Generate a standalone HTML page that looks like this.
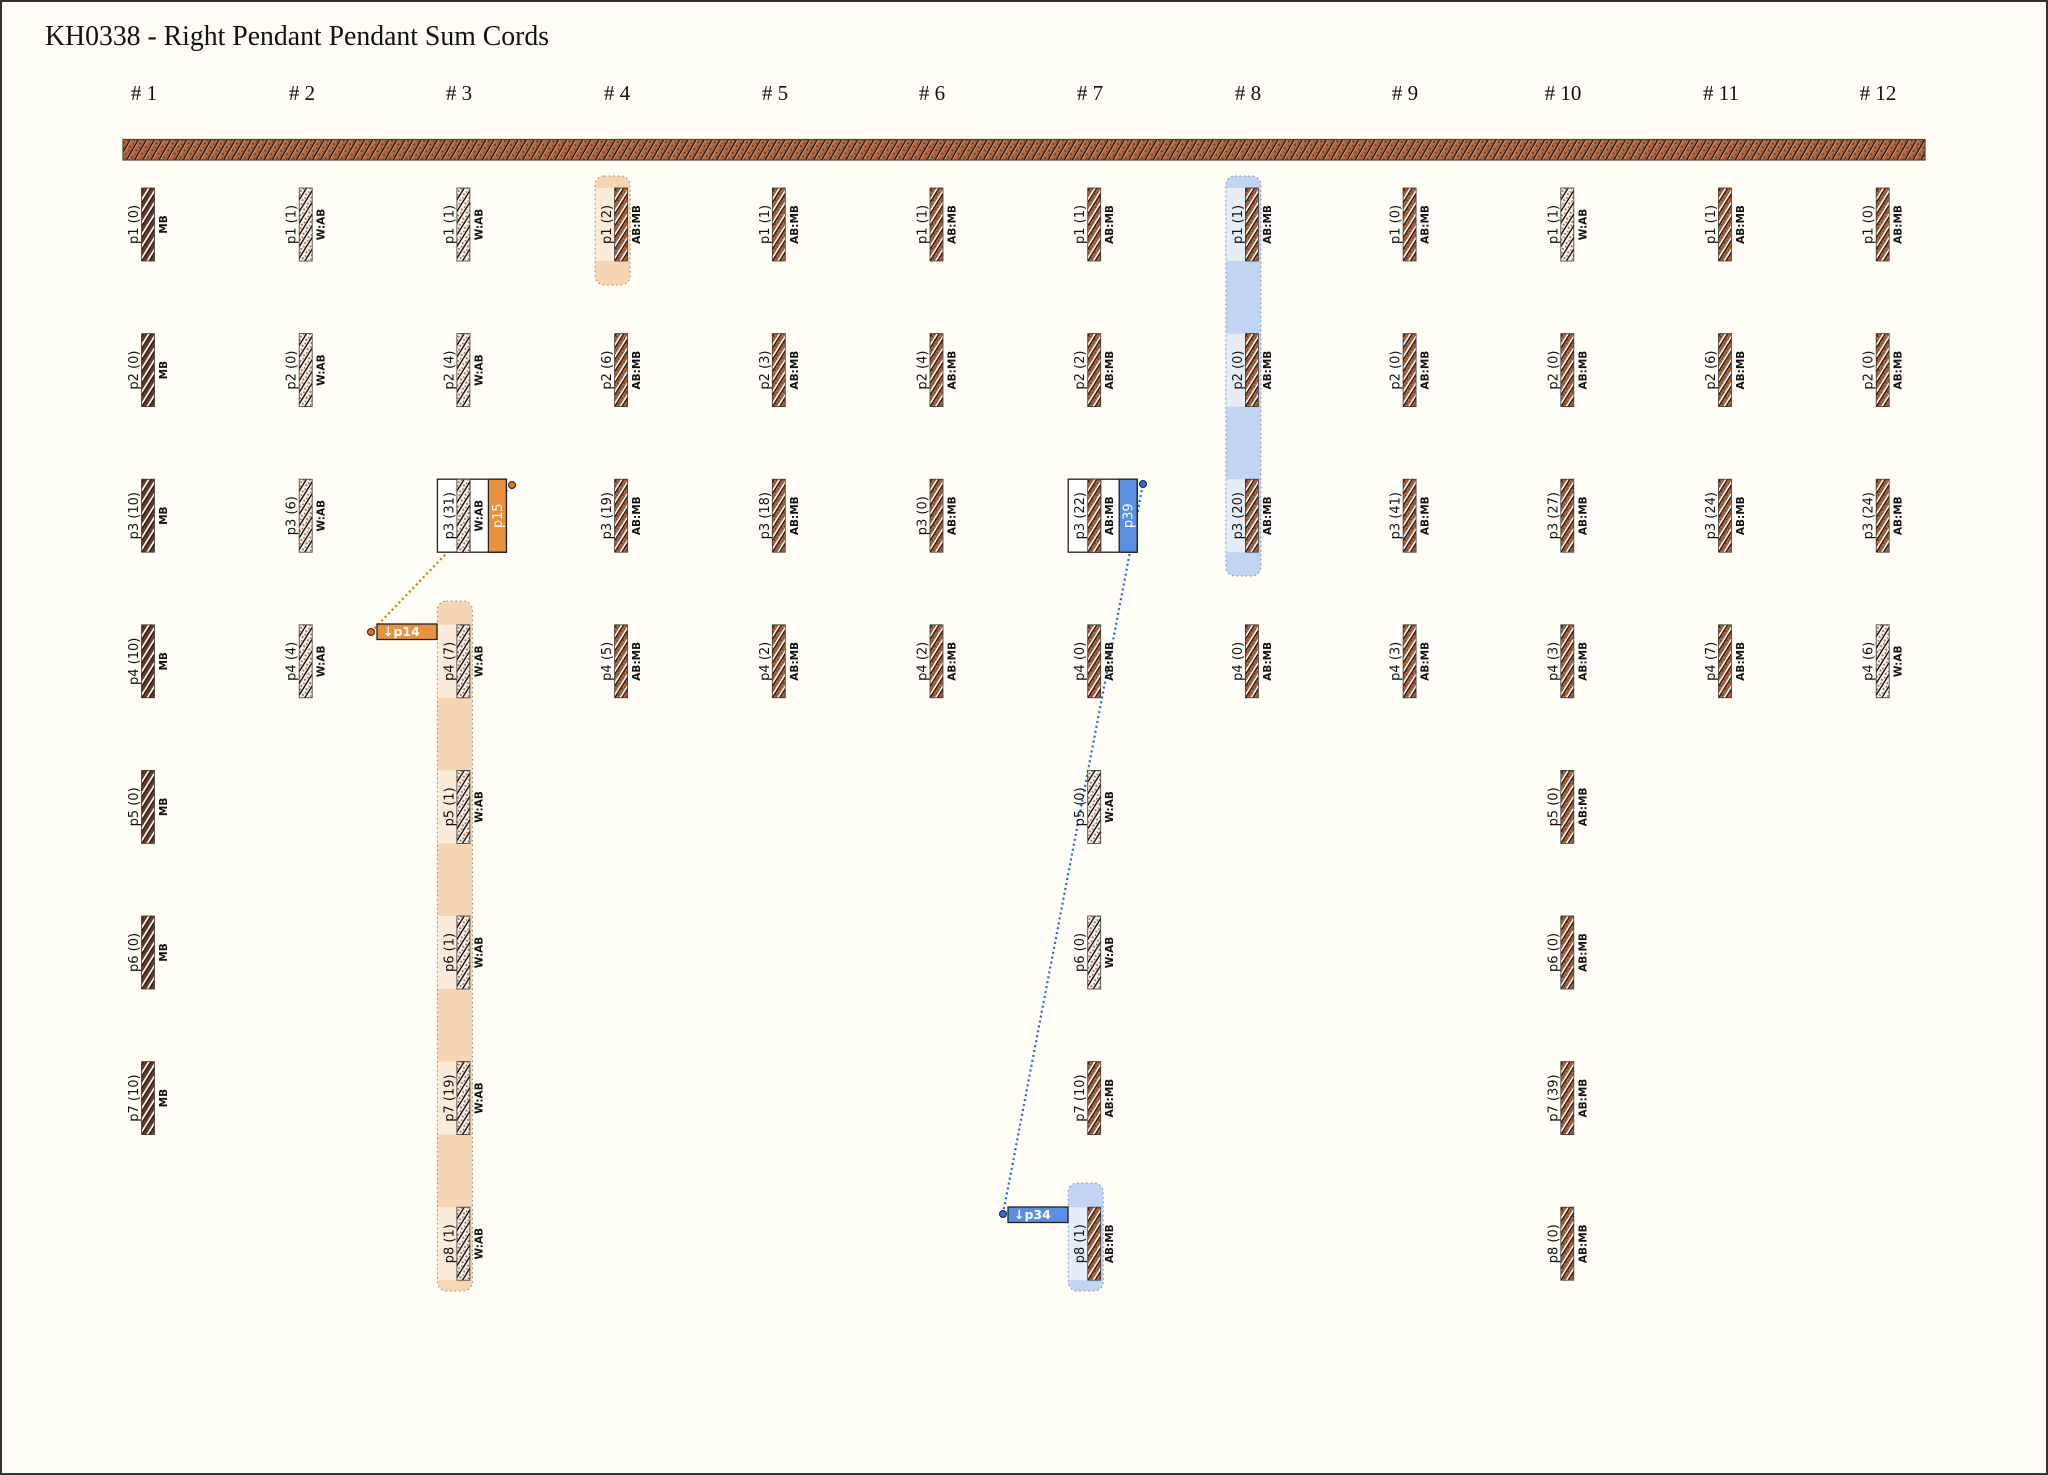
<!DOCTYPE html>
<html><head><meta charset="utf-8"><style>
html,body{margin:0;padding:0;background:#fffdf5}
svg{display:block}
.l{font-family:"DejaVu Sans","Liberation Sans",sans-serif;font-size:13px;fill:#111;text-anchor:middle}
.t{font-family:"DejaVu Sans","Liberation Sans",sans-serif;font-size:10.5px;font-weight:bold;fill:#111;text-anchor:middle}
.h{font-family:"Liberation Serif",serif;font-size:21px;fill:#111;text-anchor:middle}
.c{stroke:#3a3a3a;stroke-width:0.8}
</style></head><body>
<svg width="2048" height="1475" viewBox="0 0 2048 1475" xmlns="http://www.w3.org/2000/svg">
<defs>
<pattern id="mb" patternUnits="userSpaceOnUse" width="6" height="6.2" patternTransform="rotate(-58)">
<rect width="6" height="6.2" fill="#6c3720"/><rect y="0" width="6" height="1.8" fill="#fff"/><rect y="1.8" width="6" height="1.1" fill="#111"/></pattern>
<pattern id="ab" patternUnits="userSpaceOnUse" width="7" height="6.2" patternTransform="rotate(-58)">
<rect width="7" height="6.2" fill="#b4673c"/><circle cx="2" cy="4" r="0.9" fill="#7a3a1e"/><circle cx="5.2" cy="5" r="0.7" fill="#6a3219"/><rect y="0" width="7" height="1.6" fill="#fff"/><rect y="1.6" width="7" height="1.2" fill="#111"/></pattern>
<pattern id="wa" patternUnits="userSpaceOnUse" width="7" height="6.2" patternTransform="rotate(-58)">
<rect width="7" height="6.2" fill="#f6f4f1"/><circle cx="2" cy="3.8" r="1.1" fill="#c0683a"/><circle cx="5.3" cy="4.8" r="0.9" fill="#b25c30"/><rect y="0" width="7" height="1.4" fill="#111"/></pattern>
<pattern id="bar" patternUnits="userSpaceOnUse" width="8" height="7" patternTransform="rotate(-60)">
<rect width="8" height="7" fill="#b4673c"/><circle cx="2" cy="4" r="1" fill="#6e3418"/><circle cx="6" cy="5.5" r="0.8" fill="#6e3418"/><rect y="0" width="8" height="1.4" fill="#111"/><rect y="1.4" width="8" height="0.6" fill="#e8c8a8"/></pattern>
</defs>
<rect x="1" y="1" width="2046" height="1473" fill="#fffdf5" stroke="#333" stroke-width="2"/>
<text x="45" y="45" font-family="Liberation Serif,serif" font-size="28" fill="#111" textLength="504" lengthAdjust="spacingAndGlyphs">KH0338 - Right Pendant Pendant Sum Cords</text>
<text class="h" x="144" y="100"># 1</text><text class="h" x="302" y="100"># 2</text><text class="h" x="459" y="100"># 3</text><text class="h" x="617" y="100"># 4</text><text class="h" x="775" y="100"># 5</text><text class="h" x="932" y="100"># 6</text><text class="h" x="1090" y="100"># 7</text><text class="h" x="1248" y="100"># 8</text><text class="h" x="1405" y="100"># 9</text><text class="h" x="1563" y="100"># 10</text><text class="h" x="1721" y="100"># 11</text><text class="h" x="1878" y="100"># 12</text>
<rect x="123" y="139.5" width="1802" height="20.5" fill="url(#bar)" stroke="#444" stroke-width="1.2"/>

<rect x="595.1" y="176" width="35" height="109" rx="9" fill="#f6d6b2" stroke="#888" stroke-width="1" stroke-dasharray="1.5,3"/>
<rect x="595.6" y="188" width="19" height="73" fill="#fcebd8"/>
<rect x="437.4" y="601" width="35" height="690" rx="9" fill="#f6d6b2" stroke="#888" stroke-width="1" stroke-dasharray="1.5,3"/>
<rect x="437.9" y="624.8" width="19" height="73" fill="#fcebd8"/><rect x="437.9" y="770.4" width="19" height="73" fill="#fcebd8"/><rect x="437.9" y="916" width="19" height="73" fill="#fcebd8"/><rect x="437.9" y="1061.6" width="19" height="73" fill="#fcebd8"/><rect x="437.9" y="1207.2" width="19" height="73" fill="#fcebd8"/>
<rect x="1225.9" y="176" width="35" height="400" rx="9" fill="#c1d5f2" stroke="#888" stroke-width="1" stroke-dasharray="1.5,3"/>
<rect x="1226.4" y="188" width="19" height="73" fill="#e3ecf7"/><rect x="1226.4" y="333.6" width="19" height="73" fill="#e3ecf7"/><rect x="1226.4" y="479.2" width="19" height="73" fill="#e3ecf7"/>
<rect x="1068.2" y="1183" width="35" height="108" rx="9" fill="#c1d5f2" stroke="#888" stroke-width="1" stroke-dasharray="1.5,3"/>
<rect x="1068.7" y="1207.2" width="19" height="73" fill="#e3ecf7"/>

<line x1="371" y1="632" x2="512" y2="485" stroke="#e07010" stroke-width="2.2" stroke-dasharray="2,3"/>
<line x1="1003" y1="1214" x2="1143" y2="484" stroke="#1a66ee" stroke-width="2.2" stroke-dasharray="2,3"/>

<rect x="437.4" y="479.2" width="69" height="73" fill="#fff" fill-opacity="0.88" stroke="#222" stroke-width="1.3"/>
<rect x="488.4" y="479.2" width="18" height="73" fill="#e8913e" stroke="#222" stroke-width="1.3"/>
<line x1="469.9" y1="479.2" x2="469.9" y2="552.2" stroke="#222" stroke-width="1.2"/>
<text class="l" style="fill:#fff" transform="translate(501.9,515.7) rotate(-90)">p15</text>
<circle cx="512" cy="485" r="3.5" fill="#e07010" stroke="#222" stroke-width="1"/>
<rect x="1068.2" y="479.2" width="69" height="73" fill="#fff" fill-opacity="0.88" stroke="#222" stroke-width="1.3"/>
<rect x="1119.2" y="479.2" width="18" height="73" fill="#5a8fe3" stroke="#222" stroke-width="1.3"/>
<line x1="1100.7" y1="479.2" x2="1100.7" y2="552.2" stroke="#222" stroke-width="1.2"/>
<text class="l" style="fill:#fff" transform="translate(1132.7,515.7) rotate(-90)">p39</text>
<circle cx="1143" cy="484" r="3.5" fill="#2a6de0" stroke="#222" stroke-width="1"/>
<rect x="377" y="624" width="60" height="15.5" fill="#e8913e" stroke="#222" stroke-width="1.3"/>
<text x="383" y="636" font-family="DejaVu Sans,sans-serif" font-size="12.5" font-weight="bold" fill="#fff">↓p14</text>
<circle cx="371" cy="632" r="3.5" fill="#e07010" stroke="#222" stroke-width="1"/>
<rect x="1008" y="1207" width="60" height="15.5" fill="#5a8fe3" stroke="#222" stroke-width="1.3"/>
<text x="1014" y="1219" font-family="DejaVu Sans,sans-serif" font-size="12.5" font-weight="bold" fill="#fff">↓p34</text>
<circle cx="1003" cy="1214" r="3.5" fill="#2a6de0" stroke="#222" stroke-width="1"/>

<g transform="translate(148,188)"><rect class="c" x="-6.5" width="13" height="73" fill="url(#mb)"/><text class="l" transform="translate(-10,36.5) rotate(-90)">p1 (0)</text><text class="t" transform="translate(19,36.5) rotate(-90)">MB</text></g>
<g transform="translate(148,333.6)"><rect class="c" x="-6.5" width="13" height="73" fill="url(#mb)"/><text class="l" transform="translate(-10,36.5) rotate(-90)">p2 (0)</text><text class="t" transform="translate(19,36.5) rotate(-90)">MB</text></g>
<g transform="translate(148,479.2)"><rect class="c" x="-6.5" width="13" height="73" fill="url(#mb)"/><text class="l" transform="translate(-10,36.5) rotate(-90)">p3 (10)</text><text class="t" transform="translate(19,36.5) rotate(-90)">MB</text></g>
<g transform="translate(148,624.8)"><rect class="c" x="-6.5" width="13" height="73" fill="url(#mb)"/><text class="l" transform="translate(-10,36.5) rotate(-90)">p4 (10)</text><text class="t" transform="translate(19,36.5) rotate(-90)">MB</text></g>
<g transform="translate(148,770.4)"><rect class="c" x="-6.5" width="13" height="73" fill="url(#mb)"/><text class="l" transform="translate(-10,36.5) rotate(-90)">p5 (0)</text><text class="t" transform="translate(19,36.5) rotate(-90)">MB</text></g>
<g transform="translate(148,916)"><rect class="c" x="-6.5" width="13" height="73" fill="url(#mb)"/><text class="l" transform="translate(-10,36.5) rotate(-90)">p6 (0)</text><text class="t" transform="translate(19,36.5) rotate(-90)">MB</text></g>
<g transform="translate(148,1061.6)"><rect class="c" x="-6.5" width="13" height="73" fill="url(#mb)"/><text class="l" transform="translate(-10,36.5) rotate(-90)">p7 (10)</text><text class="t" transform="translate(19,36.5) rotate(-90)">MB</text></g>
<g transform="translate(305.7,188)"><rect class="c" x="-6.5" width="13" height="73" fill="url(#wa)"/><text class="l" transform="translate(-10,36.5) rotate(-90)">p1 (1)</text><text class="t" transform="translate(19,36.5) rotate(-90)">W:AB</text></g>
<g transform="translate(305.7,333.6)"><rect class="c" x="-6.5" width="13" height="73" fill="url(#wa)"/><text class="l" transform="translate(-10,36.5) rotate(-90)">p2 (0)</text><text class="t" transform="translate(19,36.5) rotate(-90)">W:AB</text></g>
<g transform="translate(305.7,479.2)"><rect class="c" x="-6.5" width="13" height="73" fill="url(#wa)"/><text class="l" transform="translate(-10,36.5) rotate(-90)">p3 (6)</text><text class="t" transform="translate(19,36.5) rotate(-90)">W:AB</text></g>
<g transform="translate(305.7,624.8)"><rect class="c" x="-6.5" width="13" height="73" fill="url(#wa)"/><text class="l" transform="translate(-10,36.5) rotate(-90)">p4 (4)</text><text class="t" transform="translate(19,36.5) rotate(-90)">W:AB</text></g>
<g transform="translate(463.4,188)"><rect class="c" x="-6.5" width="13" height="73" fill="url(#wa)"/><text class="l" transform="translate(-10,36.5) rotate(-90)">p1 (1)</text><text class="t" transform="translate(19,36.5) rotate(-90)">W:AB</text></g>
<g transform="translate(463.4,333.6)"><rect class="c" x="-6.5" width="13" height="73" fill="url(#wa)"/><text class="l" transform="translate(-10,36.5) rotate(-90)">p2 (4)</text><text class="t" transform="translate(19,36.5) rotate(-90)">W:AB</text></g>
<g transform="translate(463.4,479.2)"><rect class="c" x="-6.5" width="13" height="73" fill="url(#wa)"/><text class="l" transform="translate(-10,36.5) rotate(-90)">p3 (31)</text><text class="t" transform="translate(19,36.5) rotate(-90)">W:AB</text></g>
<g transform="translate(463.4,624.8)"><rect class="c" x="-6.5" width="13" height="73" fill="url(#wa)"/><text class="l" transform="translate(-10,36.5) rotate(-90)">p4 (7)</text><text class="t" transform="translate(19,36.5) rotate(-90)">W:AB</text></g>
<g transform="translate(463.4,770.4)"><rect class="c" x="-6.5" width="13" height="73" fill="url(#wa)"/><text class="l" transform="translate(-10,36.5) rotate(-90)">p5 (1)</text><text class="t" transform="translate(19,36.5) rotate(-90)">W:AB</text></g>
<g transform="translate(463.4,916)"><rect class="c" x="-6.5" width="13" height="73" fill="url(#wa)"/><text class="l" transform="translate(-10,36.5) rotate(-90)">p6 (1)</text><text class="t" transform="translate(19,36.5) rotate(-90)">W:AB</text></g>
<g transform="translate(463.4,1061.6)"><rect class="c" x="-6.5" width="13" height="73" fill="url(#wa)"/><text class="l" transform="translate(-10,36.5) rotate(-90)">p7 (19)</text><text class="t" transform="translate(19,36.5) rotate(-90)">W:AB</text></g>
<g transform="translate(463.4,1207.2)"><rect class="c" x="-6.5" width="13" height="73" fill="url(#wa)"/><text class="l" transform="translate(-10,36.5) rotate(-90)">p8 (1)</text><text class="t" transform="translate(19,36.5) rotate(-90)">W:AB</text></g>
<g transform="translate(621.1,188)"><rect class="c" x="-6.5" width="13" height="73" fill="url(#ab)"/><text class="l" transform="translate(-10,36.5) rotate(-90)">p1 (2)</text><text class="t" transform="translate(19,36.5) rotate(-90)">AB:MB</text></g>
<g transform="translate(621.1,333.6)"><rect class="c" x="-6.5" width="13" height="73" fill="url(#ab)"/><text class="l" transform="translate(-10,36.5) rotate(-90)">p2 (6)</text><text class="t" transform="translate(19,36.5) rotate(-90)">AB:MB</text></g>
<g transform="translate(621.1,479.2)"><rect class="c" x="-6.5" width="13" height="73" fill="url(#ab)"/><text class="l" transform="translate(-10,36.5) rotate(-90)">p3 (19)</text><text class="t" transform="translate(19,36.5) rotate(-90)">AB:MB</text></g>
<g transform="translate(621.1,624.8)"><rect class="c" x="-6.5" width="13" height="73" fill="url(#ab)"/><text class="l" transform="translate(-10,36.5) rotate(-90)">p4 (5)</text><text class="t" transform="translate(19,36.5) rotate(-90)">AB:MB</text></g>
<g transform="translate(778.8,188)"><rect class="c" x="-6.5" width="13" height="73" fill="url(#ab)"/><text class="l" transform="translate(-10,36.5) rotate(-90)">p1 (1)</text><text class="t" transform="translate(19,36.5) rotate(-90)">AB:MB</text></g>
<g transform="translate(778.8,333.6)"><rect class="c" x="-6.5" width="13" height="73" fill="url(#ab)"/><text class="l" transform="translate(-10,36.5) rotate(-90)">p2 (3)</text><text class="t" transform="translate(19,36.5) rotate(-90)">AB:MB</text></g>
<g transform="translate(778.8,479.2)"><rect class="c" x="-6.5" width="13" height="73" fill="url(#ab)"/><text class="l" transform="translate(-10,36.5) rotate(-90)">p3 (18)</text><text class="t" transform="translate(19,36.5) rotate(-90)">AB:MB</text></g>
<g transform="translate(778.8,624.8)"><rect class="c" x="-6.5" width="13" height="73" fill="url(#ab)"/><text class="l" transform="translate(-10,36.5) rotate(-90)">p4 (2)</text><text class="t" transform="translate(19,36.5) rotate(-90)">AB:MB</text></g>
<g transform="translate(936.5,188)"><rect class="c" x="-6.5" width="13" height="73" fill="url(#ab)"/><text class="l" transform="translate(-10,36.5) rotate(-90)">p1 (1)</text><text class="t" transform="translate(19,36.5) rotate(-90)">AB:MB</text></g>
<g transform="translate(936.5,333.6)"><rect class="c" x="-6.5" width="13" height="73" fill="url(#ab)"/><text class="l" transform="translate(-10,36.5) rotate(-90)">p2 (4)</text><text class="t" transform="translate(19,36.5) rotate(-90)">AB:MB</text></g>
<g transform="translate(936.5,479.2)"><rect class="c" x="-6.5" width="13" height="73" fill="url(#ab)"/><text class="l" transform="translate(-10,36.5) rotate(-90)">p3 (0)</text><text class="t" transform="translate(19,36.5) rotate(-90)">AB:MB</text></g>
<g transform="translate(936.5,624.8)"><rect class="c" x="-6.5" width="13" height="73" fill="url(#ab)"/><text class="l" transform="translate(-10,36.5) rotate(-90)">p4 (2)</text><text class="t" transform="translate(19,36.5) rotate(-90)">AB:MB</text></g>
<g transform="translate(1094.2,188)"><rect class="c" x="-6.5" width="13" height="73" fill="url(#ab)"/><text class="l" transform="translate(-10,36.5) rotate(-90)">p1 (1)</text><text class="t" transform="translate(19,36.5) rotate(-90)">AB:MB</text></g>
<g transform="translate(1094.2,333.6)"><rect class="c" x="-6.5" width="13" height="73" fill="url(#ab)"/><text class="l" transform="translate(-10,36.5) rotate(-90)">p2 (2)</text><text class="t" transform="translate(19,36.5) rotate(-90)">AB:MB</text></g>
<g transform="translate(1094.2,479.2)"><rect class="c" x="-6.5" width="13" height="73" fill="url(#ab)"/><text class="l" transform="translate(-10,36.5) rotate(-90)">p3 (22)</text><text class="t" transform="translate(19,36.5) rotate(-90)">AB:MB</text></g>
<g transform="translate(1094.2,624.8)"><rect class="c" x="-6.5" width="13" height="73" fill="url(#ab)"/><text class="l" transform="translate(-10,36.5) rotate(-90)">p4 (0)</text><text class="t" transform="translate(19,36.5) rotate(-90)">AB:MB</text></g>
<g transform="translate(1094.2,770.4)"><rect class="c" x="-6.5" width="13" height="73" fill="url(#wa)"/><text class="l" transform="translate(-10,36.5) rotate(-90)">p5 (0)</text><text class="t" transform="translate(19,36.5) rotate(-90)">W:AB</text></g>
<g transform="translate(1094.2,916)"><rect class="c" x="-6.5" width="13" height="73" fill="url(#wa)"/><text class="l" transform="translate(-10,36.5) rotate(-90)">p6 (0)</text><text class="t" transform="translate(19,36.5) rotate(-90)">W:AB</text></g>
<g transform="translate(1094.2,1061.6)"><rect class="c" x="-6.5" width="13" height="73" fill="url(#ab)"/><text class="l" transform="translate(-10,36.5) rotate(-90)">p7 (10)</text><text class="t" transform="translate(19,36.5) rotate(-90)">AB:MB</text></g>
<g transform="translate(1094.2,1207.2)"><rect class="c" x="-6.5" width="13" height="73" fill="url(#ab)"/><text class="l" transform="translate(-10,36.5) rotate(-90)">p8 (1)</text><text class="t" transform="translate(19,36.5) rotate(-90)">AB:MB</text></g>
<g transform="translate(1251.9,188)"><rect class="c" x="-6.5" width="13" height="73" fill="url(#ab)"/><text class="l" transform="translate(-10,36.5) rotate(-90)">p1 (1)</text><text class="t" transform="translate(19,36.5) rotate(-90)">AB:MB</text></g>
<g transform="translate(1251.9,333.6)"><rect class="c" x="-6.5" width="13" height="73" fill="url(#ab)"/><text class="l" transform="translate(-10,36.5) rotate(-90)">p2 (0)</text><text class="t" transform="translate(19,36.5) rotate(-90)">AB:MB</text></g>
<g transform="translate(1251.9,479.2)"><rect class="c" x="-6.5" width="13" height="73" fill="url(#ab)"/><text class="l" transform="translate(-10,36.5) rotate(-90)">p3 (20)</text><text class="t" transform="translate(19,36.5) rotate(-90)">AB:MB</text></g>
<g transform="translate(1251.9,624.8)"><rect class="c" x="-6.5" width="13" height="73" fill="url(#ab)"/><text class="l" transform="translate(-10,36.5) rotate(-90)">p4 (0)</text><text class="t" transform="translate(19,36.5) rotate(-90)">AB:MB</text></g>
<g transform="translate(1409.6,188)"><rect class="c" x="-6.5" width="13" height="73" fill="url(#ab)"/><text class="l" transform="translate(-10,36.5) rotate(-90)">p1 (0)</text><text class="t" transform="translate(19,36.5) rotate(-90)">AB:MB</text></g>
<g transform="translate(1409.6,333.6)"><rect class="c" x="-6.5" width="13" height="73" fill="url(#ab)"/><text class="l" transform="translate(-10,36.5) rotate(-90)">p2 (0)</text><text class="t" transform="translate(19,36.5) rotate(-90)">AB:MB</text></g>
<g transform="translate(1409.6,479.2)"><rect class="c" x="-6.5" width="13" height="73" fill="url(#ab)"/><text class="l" transform="translate(-10,36.5) rotate(-90)">p3 (41)</text><text class="t" transform="translate(19,36.5) rotate(-90)">AB:MB</text></g>
<g transform="translate(1409.6,624.8)"><rect class="c" x="-6.5" width="13" height="73" fill="url(#ab)"/><text class="l" transform="translate(-10,36.5) rotate(-90)">p4 (3)</text><text class="t" transform="translate(19,36.5) rotate(-90)">AB:MB</text></g>
<g transform="translate(1567.3,188)"><rect class="c" x="-6.5" width="13" height="73" fill="url(#wa)"/><text class="l" transform="translate(-10,36.5) rotate(-90)">p1 (1)</text><text class="t" transform="translate(19,36.5) rotate(-90)">W:AB</text></g>
<g transform="translate(1567.3,333.6)"><rect class="c" x="-6.5" width="13" height="73" fill="url(#ab)"/><text class="l" transform="translate(-10,36.5) rotate(-90)">p2 (0)</text><text class="t" transform="translate(19,36.5) rotate(-90)">AB:MB</text></g>
<g transform="translate(1567.3,479.2)"><rect class="c" x="-6.5" width="13" height="73" fill="url(#ab)"/><text class="l" transform="translate(-10,36.5) rotate(-90)">p3 (27)</text><text class="t" transform="translate(19,36.5) rotate(-90)">AB:MB</text></g>
<g transform="translate(1567.3,624.8)"><rect class="c" x="-6.5" width="13" height="73" fill="url(#ab)"/><text class="l" transform="translate(-10,36.5) rotate(-90)">p4 (3)</text><text class="t" transform="translate(19,36.5) rotate(-90)">AB:MB</text></g>
<g transform="translate(1567.3,770.4)"><rect class="c" x="-6.5" width="13" height="73" fill="url(#ab)"/><text class="l" transform="translate(-10,36.5) rotate(-90)">p5 (0)</text><text class="t" transform="translate(19,36.5) rotate(-90)">AB:MB</text></g>
<g transform="translate(1567.3,916)"><rect class="c" x="-6.5" width="13" height="73" fill="url(#ab)"/><text class="l" transform="translate(-10,36.5) rotate(-90)">p6 (0)</text><text class="t" transform="translate(19,36.5) rotate(-90)">AB:MB</text></g>
<g transform="translate(1567.3,1061.6)"><rect class="c" x="-6.5" width="13" height="73" fill="url(#ab)"/><text class="l" transform="translate(-10,36.5) rotate(-90)">p7 (39)</text><text class="t" transform="translate(19,36.5) rotate(-90)">AB:MB</text></g>
<g transform="translate(1567.3,1207.2)"><rect class="c" x="-6.5" width="13" height="73" fill="url(#ab)"/><text class="l" transform="translate(-10,36.5) rotate(-90)">p8 (0)</text><text class="t" transform="translate(19,36.5) rotate(-90)">AB:MB</text></g>
<g transform="translate(1725,188)"><rect class="c" x="-6.5" width="13" height="73" fill="url(#ab)"/><text class="l" transform="translate(-10,36.5) rotate(-90)">p1 (1)</text><text class="t" transform="translate(19,36.5) rotate(-90)">AB:MB</text></g>
<g transform="translate(1725,333.6)"><rect class="c" x="-6.5" width="13" height="73" fill="url(#ab)"/><text class="l" transform="translate(-10,36.5) rotate(-90)">p2 (6)</text><text class="t" transform="translate(19,36.5) rotate(-90)">AB:MB</text></g>
<g transform="translate(1725,479.2)"><rect class="c" x="-6.5" width="13" height="73" fill="url(#ab)"/><text class="l" transform="translate(-10,36.5) rotate(-90)">p3 (24)</text><text class="t" transform="translate(19,36.5) rotate(-90)">AB:MB</text></g>
<g transform="translate(1725,624.8)"><rect class="c" x="-6.5" width="13" height="73" fill="url(#ab)"/><text class="l" transform="translate(-10,36.5) rotate(-90)">p4 (7)</text><text class="t" transform="translate(19,36.5) rotate(-90)">AB:MB</text></g>
<g transform="translate(1882.7,188)"><rect class="c" x="-6.5" width="13" height="73" fill="url(#ab)"/><text class="l" transform="translate(-10,36.5) rotate(-90)">p1 (0)</text><text class="t" transform="translate(19,36.5) rotate(-90)">AB:MB</text></g>
<g transform="translate(1882.7,333.6)"><rect class="c" x="-6.5" width="13" height="73" fill="url(#ab)"/><text class="l" transform="translate(-10,36.5) rotate(-90)">p2 (0)</text><text class="t" transform="translate(19,36.5) rotate(-90)">AB:MB</text></g>
<g transform="translate(1882.7,479.2)"><rect class="c" x="-6.5" width="13" height="73" fill="url(#ab)"/><text class="l" transform="translate(-10,36.5) rotate(-90)">p3 (24)</text><text class="t" transform="translate(19,36.5) rotate(-90)">AB:MB</text></g>
<g transform="translate(1882.7,624.8)"><rect class="c" x="-6.5" width="13" height="73" fill="url(#wa)"/><text class="l" transform="translate(-10,36.5) rotate(-90)">p4 (6)</text><text class="t" transform="translate(19,36.5) rotate(-90)">W:AB</text></g>
</svg>
</body></html>
